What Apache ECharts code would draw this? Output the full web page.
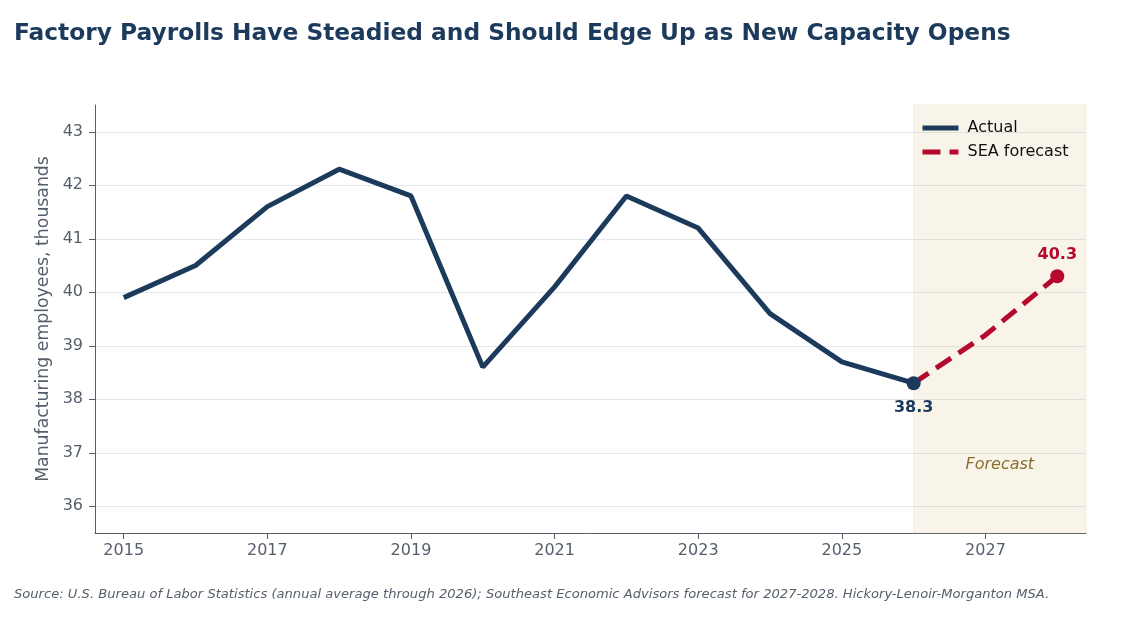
<!DOCTYPE html>
<html>
<head>
<meta charset="utf-8">
<script src="https://cdn.jsdelivr.net/npm/echarts@6/dist/echarts.min.js"></script>
<style>
  html, body { margin: 0; padding: 0; background: #ffffff; }
  #chart { width: 1125px; height: 617px; }
</style>
</head>
<body>
<div id="chart"></div>
<script>
  // data
  const years = [2015, 2016, 2017, 2018, 2019, 2020, 2021, 2022, 2023, 2024, 2025, 2026];
  const actual = [39.9, 40.5, 41.6, 42.3, 41.8, 38.6, 40.1, 41.8, 41.2, 39.6, 38.7, 38.3];
  const forecastYears = [2026, 2027, 2028];
  const forecast = [38.3, 39.2, 40.3];
  const xTicks = [2015, 2017, 2019, 2021, 2023, 2025, 2027];
  const yTicks = [36, 37, 38, 39, 40, 41, 42, 43];
  const forecastStart = 2026;

  const navy = '#1b3a5c';
  const red = '#b5092e';
  const grey = '#555f6b';
  const font = 'DejaVu Sans';

  let myChart = echarts.init(document.getElementById('chart'));

  let actualData = years.map((y, i) => {
    let item = {value: [y, actual[i]]};
    if (i === years.length - 1) {
      item.symbol = 'circle';
      item.symbolSize = 14;
      item.label = {
        show: true, position: 'bottom', distance: 10,
        formatter: String(actual[i]), color: navy,
        fontWeight: 'bold', fontSize: 16, fontFamily: font
      };
    }
    return item;
  });

  let forecastData = forecastYears.map((y, i) => {
    let item = {value: [y, forecast[i]]};
    if (i === forecastYears.length - 1) {
      item.symbol = 'circle';
      item.symbolSize = 14;
      item.label = {
        show: true, position: 'top', distance: 6,
        formatter: String(forecast[i]), color: red,
        fontWeight: 'bold', fontSize: 16, fontFamily: font
      };
    }
    return item;
  });

  let option = {
    animation: false,
    textStyle: {fontFamily: font},
    title: {
      text: 'Factory Payrolls Have Steadied and Should Edge Up as New Capacity Opens',
      left: 9, top: 17,
      textStyle: {color: navy, fontSize: 23.3, fontWeight: 'bold', fontFamily: font}
    },
    graphic: [{
      type: 'text', left: 14, top: 588,
      style: {
        text: 'Source: U.S. Bureau of Labor Statistics (annual average through 2026); Southeast Economic Advisors forecast for 2027-2028. Hickory-Lenoir-Morganton MSA.',
        fill: grey, fontSize: 13.1, fontStyle: 'italic', fontFamily: font
      }
    }],
    legend: {
      left: 915, top: 115,
      orient: 'vertical',
      itemWidth: 36, itemHeight: 14, itemGap: 8,
      itemStyle: {opacity: 0},
      lineStyle: {width: 5},
      textStyle: {color: '#111', fontSize: 16, fontFamily: font, padding: [0, 0, 0, 4]},
      data: ['Actual', 'SEA forecast']
    },
    grid: {left: 95, right: 39, top: 105, bottom: 84},
    xAxis: {
      type: 'value',
      min: 2014.6, max: 2028.4,
      axisLine: {lineStyle: {color: grey}},
      axisTick: {show: true, length: 6, lineStyle: {color: grey}, customValues: xTicks},
      axisLabel: {color: grey, fontSize: 16, margin: 10, customValues: xTicks, formatter: v => String(v)},
      splitLine: {show: false}
    },
    yAxis: {
      type: 'value',
      min: 35.5, max: 43.5,
      name: 'Manufacturing employees, thousands',
      nameLocation: 'middle', nameGap: 40,
      nameTextStyle: {color: grey, fontSize: 17.3},
      axisLine: {show: true, lineStyle: {color: grey}},
      axisTick: {show: true, length: 6, lineStyle: {color: grey}, customValues: yTicks},
      axisLabel: {color: grey, fontSize: 16, margin: 12, customValues: yTicks},
      splitLine: {show: true, lineStyle: {color: '#e4e7ec', width: 1.2}}
    },
    series: [
      {
        name: 'Actual',
        type: 'line',
        data: actualData,
        symbol: 'none',
        color: navy,
        lineStyle: {color: navy, width: 5},
        itemStyle: {color: navy},
        z: 3,
        markArea: {
          silent: true,
          itemStyle: {color: 'rgba(222, 200, 150, 0.2)', borderColor: 'rgba(222, 200, 150, 0.25)', borderWidth: 1},
          label: {
            show: true, position: 'insideBottom', distance: 61,
            formatter: 'Forecast', color: '#8a7030', fontStyle: 'italic',
            fontSize: 16, fontFamily: font
          },
          data: [[{xAxis: forecastStart}, {xAxis: 2028.4}]]
        }
      },
      {
        name: 'SEA forecast',
        type: 'line',
        data: forecastData,
        symbol: 'none',
        color: red,
        lineStyle: {color: red, width: 5, type: [18, 9]},
        itemStyle: {color: red},
        z: 2
      }
    ]
  };

  myChart.setOption(option);
</script>
</body>
</html>
